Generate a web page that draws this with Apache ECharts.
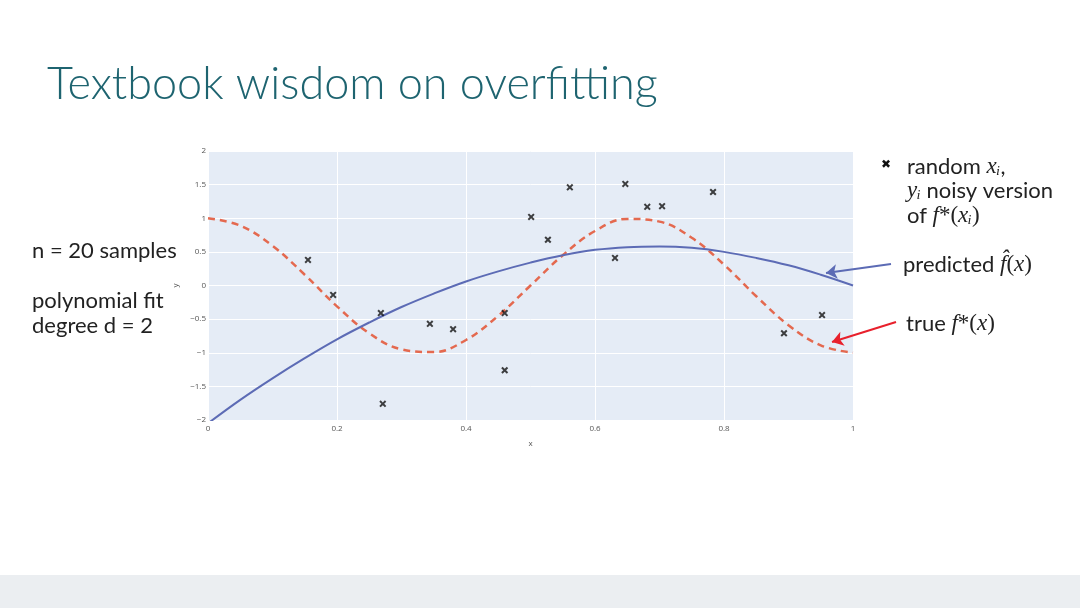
<!DOCTYPE html>
<html>
<head>
<meta charset="utf-8">
<style>
  html, body { margin: 0; padding: 0; background: #fff; }
  #chart { width: 1080px; height: 608px; }
</style>
<script src="https://cdn.jsdelivr.net/npm/echarts@6/dist/echarts.min.js"></script>
</head>
<body>
<div id="chart"></div>
<script>
// 样本点 (x_i, y_i)
const sampleX = [0.155, 0.194, 0.268, 0.271, 0.344, 0.380, 0.460, 0.460, 0.501, 0.527,
                 0.561, 0.631, 0.647, 0.681, 0.704, 0.783, 0.893, 0.952];
const sampleY = [0.38, -0.14, -0.41, -1.76, -0.57, -0.65, -0.41, -1.26, 1.02, 0.68,
                 1.46, 0.41, 1.51, 1.17, 1.18, 1.39, -0.71, -0.44];

// 曲线取值
const curveX = [0, 0.05, 0.1, 0.15, 0.2, 0.25, 0.3, 0.35, 0.4, 0.45, 0.5,
                0.55, 0.6, 0.65, 0.7, 0.75, 0.8, 0.85, 0.9, 0.95, 1];
const predictedY = [-2.05, -1.70, -1.38, -1.08, -0.80, -0.55, -0.32, -0.12, 0.06, 0.21, 0.34,
                    0.45, 0.53, 0.57, 0.58, 0.56, 0.50, 0.41, 0.30, 0.16, 0.00];
const trueY = [1.00, 0.89, 0.59, 0.16, -0.31, -0.71, -0.95, -0.99, -0.81, -0.45, 0.00,
               0.45, 0.81, 0.99, 0.95, 0.71, 0.31, -0.16, -0.59, -0.89, -1.00];

// 坐标轴刻度
const xTicks = [0, 0.2, 0.4, 0.6, 0.8, 1];
const yTicks = [-2, -1.5, -1, -0.5, 0, 0.5, 1, 1.5, 2];

const myChart = echarts.init(document.getElementById('chart'));

const zip = (xs, ys) => xs.map((x, i) => [x, ys[i]]);
const fmtTick = v => (v < 0 ? '\u2212' + Math.abs(v) : String(v));

const sansFont = 'Lato, "Noto Sans", sans-serif';
const mathFont = '"Liberation Serif", "DejaVu Serif", serif';

const textStyleRich = {
    t: { fontFamily: sansFont, fontSize: 22, color: '#222' },
    m: { fontFamily: mathFont, fontStyle: 'italic', fontSize: 23, color: '#222' },
    r: { fontFamily: mathFont, fontSize: 23, color: '#222' }
};

function richText(left, top, text) {
    return {
        type: 'text',
        left: left,
        top: top,
        style: { text: text, rich: textStyleRich, fill: '#222' }
    };
}

const xMarker = 'path://M2,0 L5,3 L8,0 L10,2 L7,5 L10,8 L8,10 L5,7 L2,10 L0,8 L3,5 L0,2 Z';

const option = {
    backgroundColor: '#ffffff',
    animation: false,
    grid: {
        left: 208,
        right: 227,
        top: 151,
        bottom: 188,
        show: true,
        backgroundColor: '#e5ecf6',
        borderWidth: 0
    },
    xAxis: {
        type: 'value',
        min: 0,
        max: 1,
        interval: 0.2,
        name: 'x',
        nameLocation: 'middle',
        nameGap: 20,
        nameTextStyle: { fontFamily: '"Open Sans", sans-serif', fontSize: 8, color: '#555' },
        axisLine: { show: false },
        axisTick: { show: false },
        axisLabel: {
            fontFamily: '"Open Sans", sans-serif',
            fontSize: 8,
            color: '#555',
            margin: 5,
            formatter: v => (xTicks.indexOf(v) >= 0 ? fmtTick(v) : '')
        },
        splitLine: { show: true, lineStyle: { color: '#ffffff', width: 1 } }
    },
    yAxis: {
        type: 'value',
        min: -2,
        max: 2,
        interval: 0.5,
        name: 'y',
        nameLocation: 'middle',
        nameGap: 26,
        nameTextStyle: { fontFamily: '"Open Sans", sans-serif', fontSize: 8, color: '#555' },
        axisLine: { show: false },
        axisTick: { show: false },
        axisLabel: {
            fontFamily: '"Open Sans", sans-serif',
            fontSize: 8,
            color: '#555',
            margin: 2,
            formatter: v => (yTicks.indexOf(v) >= 0 ? fmtTick(v) : '')
        },
        splitLine: { show: true, lineStyle: { color: '#ffffff', width: 1 } }
    },
    series: [
        {
            name: 'true',
            type: 'line',
            data: zip(curveX, trueY),
            smooth: 0.4,
            showSymbol: false,
            z: 3,
            lineStyle: { color: '#e4694f', width: 2.5, type: [7, 5] },
            markLine: {
                silent: true,
                symbol: ['none', 'arrow'],
                symbolSize: 11,
                label: { show: false },
                lineStyle: { type: 'solid', width: 2 },
                data: [
                    [
                        { x: 891, y: 264, lineStyle: { color: '#5c6bb5' } },
                        { x: 826, y: 273 }
                    ],
                    [
                        { x: 896, y: 322, lineStyle: { color: '#e8202c' } },
                        { x: 832, y: 342 }
                    ]
                ]
            }
        },
        {
            name: 'predicted',
            type: 'line',
            data: zip(curveX, predictedY),
            smooth: 0.4,
            showSymbol: false,
            z: 4,
            lineStyle: { color: '#5c6bb5', width: 2 }
        },
        {
            name: 'samples',
            type: 'scatter',
            data: zip(sampleX, sampleY),
            symbol: xMarker,
            symbolSize: 7,
            z: 5,
            itemStyle: { color: '#111111' }
        }
    ],
    graphic: [
        {
            type: 'rect',
            left: 0,
            top: 575,
            shape: { width: 1080, height: 33 },
            style: { fill: '#ebeef1' }
        },
        {
            type: 'text',
            left: 47,
            top: 62,
            style: {
                text: 'Textbook wisdom on overfitting',
                font: '300 45px ' + sansFont,
                fill: '#1e6470'
            }
        },
        {
            type: 'text',
            left: 32,
            top: 240,
            style: { text: 'n = 20 samples', font: '22px ' + sansFont, fill: '#222' }
        },
        {
            type: 'text',
            left: 32,
            top: 290,
            style: { text: 'polynomial fit', font: '22px ' + sansFont, fill: '#222' }
        },
        {
            type: 'text',
            left: 32,
            top: 315,
            style: { text: 'degree d = 2', font: '22px ' + sansFont, fill: '#222' }
        },
        {
            type: 'text',
            left: 881,
            top: 159,
            style: { text: '\u2716', font: '12px "DejaVu Sans"', fill: '#111' }
        },
        richText(907, 155, '{t|random }{m|x}{m|\u1d62}{t|,}'),
        richText(907, 179, '{m|y}{m|\u1d62}{t| noisy version}'),
        richText(907, 204, '{t|of }{m|f}{r|*(}{m|x}{m|\u1d62}{r|)}'),
        richText(903, 253, '{t|predicted }{m|f\u0302}{r|(}{m|x}{r|)}'),
        richText(906, 312, '{t|true }{m|f}{r|*(}{m|x}{r|)}')
    ]
};

myChart.setOption(option);
</script>
</body>
</html>
